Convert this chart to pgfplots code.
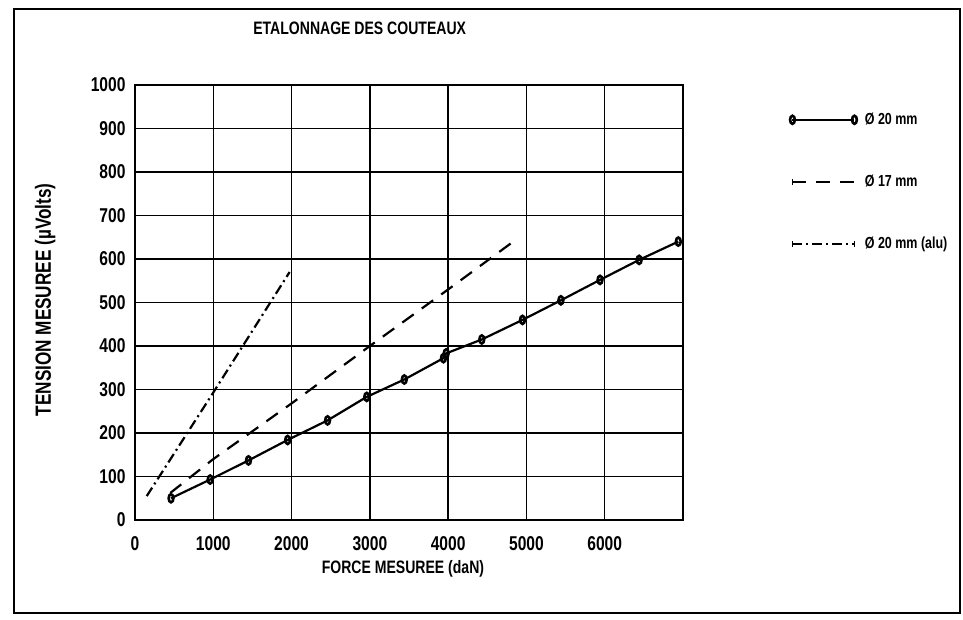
\documentclass[border=0pt]{standalone}
\usepackage{fontspec}
\setmainfont{Liberation Sans}[FakeStretch=0.78]
\usepackage{pgfplots}
\pgfplotsset{compat=1.18}
\pgfplotsset{
  legA/.style={legend image code/.code={\draw[##1] plot coordinates {(0pt,0pt) (62pt,0pt)};}},
  legB/.style={legend image code/.code={\draw[##1] (0pt,0pt) -- (62pt,0pt); \draw[solid,line width=1.6pt] (0pt,-3pt) -- (0pt,3pt);}},
  legC/.style={legend image code/.code={\draw[##1] (0pt,0pt) -- (62pt,0pt); \draw[solid,line width=1.6pt] (0pt,-3pt) -- (0pt,3pt) (62pt,-3pt) -- (62pt,3pt);}},
}
\begin{document}
\begin{tikzpicture}[x=1pt,y=1pt]
\path[use as bounding box] (0,0) rectangle (963,620);
\draw[line width=1.6pt] (14,7) rectangle (960,611);
\begin{axis}[
  at={(135pt,100pt)}, anchor=south west,
  scale only axis, width=548pt, height=435pt,
  xmin=0, xmax=7000, ymin=0, ymax=1000,
  xtick={0,1000,...,6000}, ytick={0,100,...,1000},
  scaled ticks=false,
  /pgf/number format/assume math mode=true,
  /pgf/number format/set thousands separator={},
  tick label style={font=\fontsize{20}{22}\selectfont\bfseries},
  xticklabel style={yshift=-13pt},
  yticklabel style={xshift=-6pt},
  major tick length=0pt,
  grid=major, grid style={black, line width=1.4pt},
  axis line style={line width=1.7pt},
  title={ETALONNAGE DES COUTEAUX},
  title style={at={(axis description cs:0.41,1.117)}, anchor=center, font=\fontsize{18}{20}\selectfont\bfseries},
  xlabel={FORCE MESUREE (daN)},
  xlabel style={at={(axis description cs:0.489,-0.112)}, anchor=center, font=\fontsize{18}{20}\selectfont\bfseries},
  ylabel={TENSION MESUREE (µVolts)},
  ylabel style={at={(axis description cs:-0.164,0.506)}, anchor=center, font=\fontsize{22}{24}\selectfont\bfseries},
  legend style={at={(axis description cs:1.195,0.94)}, anchor=north west, draw=none, fill=none,
    font=\fontsize{16}{18}\selectfont\bfseries, row sep=45pt, inner sep=0pt,
    nodes={inner xsep=8pt}},
  legend cell align=left,
]
\addplot[black, line width=2.2pt, mark=o, mark size=3pt, mark options={solid, line width=2.6pt, yscale=1.35, xscale=0.8}, legA]
 coordinates {
 (460,50) (960,93) (1450,137) (1950,184) (2460,229) (2960,283) (3440,323)
 (3940,372) (3975,383) (4430,415) (4950,460) (5440,505) (5940,552) (6440,598) (6940,640)};
\addlegendentry{Ø 20 mm}
\addplot[black, line width=2.2pt, dash pattern=on 14pt off 10pt, legB]
 coordinates {(450,62) (1000,140) (2000,268) (3000,400) (4000,530) (4870,645)};
\addlegendentry{Ø 17 mm}
\addplot[black, line width=2.2pt, dash pattern=on 10pt off 4pt on 2pt off 4pt, legC]
 coordinates {(150,55) (1000,293) (1975,570)};
\addlegendentry{Ø 20 mm (alu)}
\end{axis}
\end{tikzpicture}
\end{document}
